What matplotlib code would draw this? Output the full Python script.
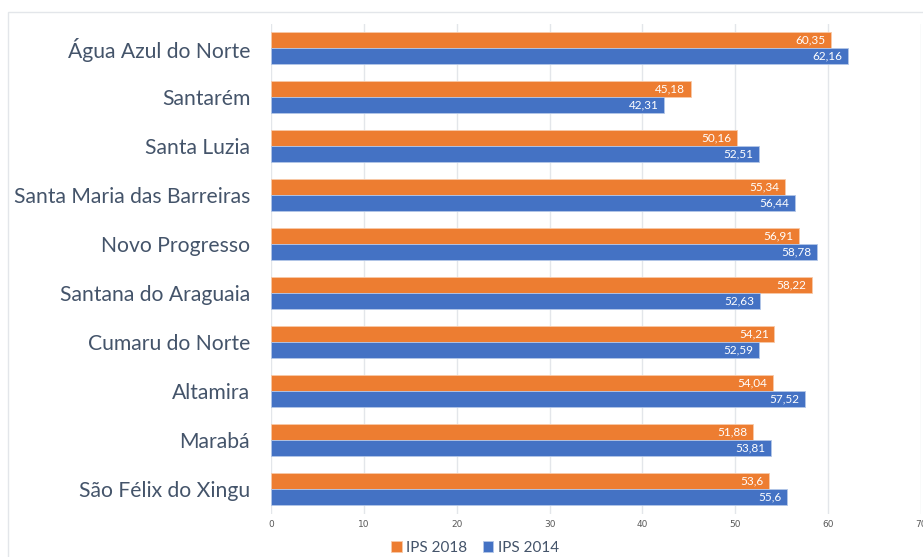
import matplotlib.pyplot as plt
import numpy as np
from matplotlib.patches import Rectangle

# dados
municipios = ['Água Azul do Norte', 'Santarém', 'Santa Luzia', 'Santa Maria das Barreiras',
              'Novo Progresso', 'Santana do Araguaia', 'Cumaru do Norte', 'Altamira',
              'Marabá', 'São Félix do Xingu']
ips_2018 = [60.35, 45.18, 50.16, 55.34, 56.91, 58.22, 54.21, 54.04, 51.88, 53.6]
ips_2014 = [62.16, 42.31, 52.51, 56.44, 58.78, 52.63, 52.59, 57.52, 53.81, 55.6]
rotulos_2018 = ['60,35', '45,18', '50,16', '55,34', '56,91', '58,22', '54,21', '54,04', '51,88', '53,6']
rotulos_2014 = ['62,16', '42,31', '52,51', '56,44', '58,78', '52,63', '52,59', '57,52', '53,81', '55,6']

laranja = '#ED7D31'
azul = '#4472C4'
texto = '#44546A'

fig = plt.figure(figsize=(9.23, 5.57), dpi=100)
fig.patches.append(Rectangle((8 / 923, -0.01), 1.0, 1 - 12 / 557 + 0.01, transform=fig.transFigure,
                             fill=False, edgecolor='#E3E6EA', linewidth=1))
ax = fig.add_axes([271 / 923, 1 - 513.5 / 557, 650 / 923, 490 / 557])

y = np.arange(len(municipios))
h = 0.335
b1 = ax.barh(y - h / 2, ips_2018, height=h, color=laranja, edgecolor='#F8C9A8', linewidth=0.6,
             label='IPS 2018', zorder=3)
b2 = ax.barh(y + h / 2, ips_2014, height=h, color=azul, edgecolor='#B4C7E7', linewidth=0.6,
             label='IPS 2014', zorder=3)

# rótulos dentro das barras
for rect, lab in zip(b1, rotulos_2018):
    ax.text(rect.get_width() - 0.6, rect.get_y() + rect.get_height() / 2, lab,
            ha='right', va='center', color='white', fontsize=8.5, family='Lato', zorder=4)
for rect, lab in zip(b2, rotulos_2014):
    ax.text(rect.get_width() - 0.6, rect.get_y() + rect.get_height() / 2, lab,
            ha='right', va='center', color='white', fontsize=8.5, family='Lato', zorder=4)

ax.set_ylim(len(municipios) - 0.5, -0.5)
ax.set_xlim(0, 70)
ax.set_yticks(y)
ax.set_yticklabels(municipios, fontsize=15.2, color=texto, family='Lato')
ax.set_xticks(np.arange(0, 71, 10))
ax.tick_params(axis='x', labelsize=6.5, labelcolor='#595959', length=0, pad=5)
ax.tick_params(axis='y', length=0, pad=15)

ax.grid(axis='x', color='#E3E6EA', linewidth=1, zorder=0)
for s in ax.spines.values():
    s.set_visible(False)

fig.legend(handles=[b1, b2], loc='center', bbox_to_anchor=(475 / 923, 1 - 548 / 557), ncol=2,
           frameon=False, prop={'family': 'Lato', 'size': 11}, labelcolor=texto, handlelength=0.7,
           handleheight=0.7, handletextpad=0.3, columnspacing=1.0, borderpad=0)

fig.savefig('out.png', dpi=100)
